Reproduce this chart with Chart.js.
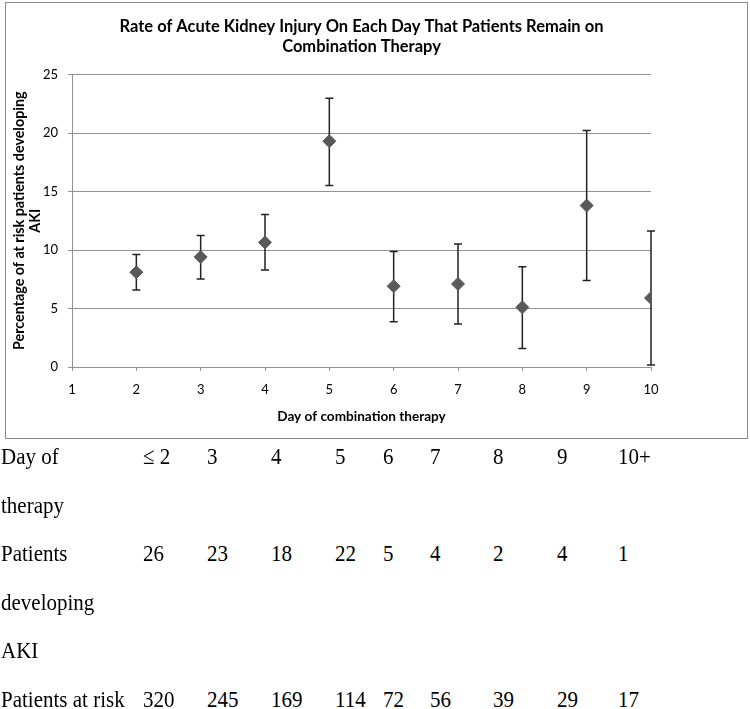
<!DOCTYPE html>
<html>
<head>
<meta charset="utf-8">
<script src="https://cdn.jsdelivr.net/npm/chart.js@4"></script>
<style>
  body { margin: 0; background: #fff; }
  #wrap { position: relative; width: 750px; height: 709px; overflow: hidden; }
  #frame { position: absolute; left: 5px; top: 2px; width: 741px; height: 435px; border: 1.5px solid #8a8a8a; }
  #akiChart { position: absolute; left: 0; top: 0; }
  .cell { position: absolute; font-family: "Liberation Serif", "Times New Roman", serif; font-size: 21px;
          line-height: 21px; white-space: nowrap; color: #000; transform: scaleY(1.14); transform-origin: 0 17.6px; }
</style>
</head>
<body>
<div id="wrap">
  <div id="frame"></div>
  <canvas id="akiChart" width="750" height="445"></canvas>
  <div id="table"></div>
</div>
<script>
// chart values
const days = [2, 3, 4, 5, 6, 7, 8, 9, 10];
const akiRate = [8.1, 9.4, 10.65, 19.3, 6.9, 7.1, 5.1, 13.8, 5.9];
const lowerCI = [6.58, 7.52, 8.29, 15.52, 3.87, 3.67, 1.59, 7.40, 0.17];
const upperCI = [9.62, 11.25, 13.04, 22.98, 9.88, 10.51, 8.57, 20.22, 11.62];

// table under the chart
const rowLabels = ['Day of', 'therapy', 'Patients', 'developing', 'AKI', 'Patients at risk'];
const dayLabels = ['≤ 2', '3', '4', '5', '6', '7', '8', '9', '10+'];
const patientsAKI = [26, 23, 18, 22, 5, 4, 2, 4, 1];
const patientsAtRisk = [320, 245, 169, 114, 72, 56, 39, 29, 17];

const chartFont = 'Lato, "Open Sans", sans-serif';
const gridGrey = '#939393';

const errorBars = {
  id: 'errorBars',
  beforeDatasetsDraw(chart) {
    const ctx = chart.ctx, xs = chart.scales.x, ys = chart.scales.y;
    ctx.save();
    ctx.strokeStyle = '#222';
    ctx.lineWidth = 1.5;
    days.forEach(function(d, i) {
      const x = xs.getPixelForValue(d);
      const yTop = ys.getPixelForValue(upperCI[i]);
      const yBot = ys.getPixelForValue(lowerCI[i]);
      ctx.beginPath();
      ctx.moveTo(x, yTop); ctx.lineTo(x, yBot);
      ctx.moveTo(x - 4, yTop); ctx.lineTo(x + 4, yTop);
      ctx.moveTo(x - 4, yBot); ctx.lineTo(x + 4, yBot);
      ctx.stroke();
    });
    ctx.restore();
  }
};

const ctx = document.getElementById('akiChart').getContext('2d');
new Chart(ctx, {
  type: 'scatter',
  data: {
    datasets: [{
      data: days.map(function(d, i) { return {x: d, y: akiRate[i]}; }),
      pointStyle: 'rectRot',
      pointRadius: 6.5,
      pointBackgroundColor: '#595959',
      pointBorderColor: '#595959',
      pointBorderWidth: 1
    }]
  },
  options: {
    responsive: false,
    animation: false,
    events: [],
    layout: { padding: { top: 17, left: 0, right: 99, bottom: 0 } },
    plugins: {
      legend: { display: false },
      tooltip: { enabled: false },
      title: {
        display: true,
        fullSize: false,
        text: ['Rate of Acute Kidney Injury On Each Day That Patients Remain on', 'Combination Therapy'],
        color: '#000',
        font: { family: chartFont, size: 16.5, weight: 'bold', lineHeight: 20 / 16.5 },
        padding: { top: 0, bottom: 17.5 }
      }
    },
    scales: {
      x: {
        type: 'linear',
        min: 1, max: 10,
        afterFit: function(scale) { scale.height = 78; },
        ticks: { stepSize: 1, color: '#000', padding: 11, font: { family: chartFont, size: 13 } },
        grid: { drawOnChartArea: false, drawTicks: true, tickLength: 4, color: gridGrey },
        border: { display: true, color: gridGrey, width: 1 },
        title: {
          display: true,
          text: 'Day of combination therapy',
          color: '#000',
          font: { family: chartFont, size: 13.6, weight: 'bold', lineHeight: 1.2 },
          padding: { top: 0, bottom: 19.8 }
        }
      },
      y: {
        min: 0, max: 25,
        afterFit: function(scale) { scale.width = 72; },
        ticks: { stepSize: 5, color: '#000', padding: 10, font: { family: chartFont, size: 13 } },
        grid: { color: gridGrey, tickLength: 4, lineWidth: 1 },
        border: { display: true, color: gridGrey, width: 1 },
        title: {
          display: true,
          text: ['Percentage of at risk patients developing', 'AKI'],
          color: '#000',
          font: { family: chartFont, size: 14.3, weight: 'bold', lineHeight: 1.15 },
          padding: { top: 10.8, bottom: 0 }
        }
      }
    }
  },
  plugins: [errorBars]
});

// table text
const colX = [143, 207, 271, 335, 383, 430, 493, 557, 618];
const rowBase = [465, 513.5, 562, 610.5, 659, 707.5];
const table = document.getElementById('table');
function addCell(text, x, base) {
  const el = document.createElement('div');
  el.className = 'cell';
  el.textContent = text;
  el.style.left = x + 'px';
  el.style.top = (base - 17.6) + 'px';
  table.appendChild(el);
}
rowLabels.forEach(function(t, i) { addCell(t, 1, rowBase[i]); });
dayLabels.forEach(function(t, i) { addCell(t, colX[i], rowBase[0]); });
patientsAKI.forEach(function(t, i) { addCell(String(t), colX[i], rowBase[2]); });
patientsAtRisk.forEach(function(t, i) { addCell(String(t), colX[i], rowBase[5]); });
</script>
</body>
</html>
